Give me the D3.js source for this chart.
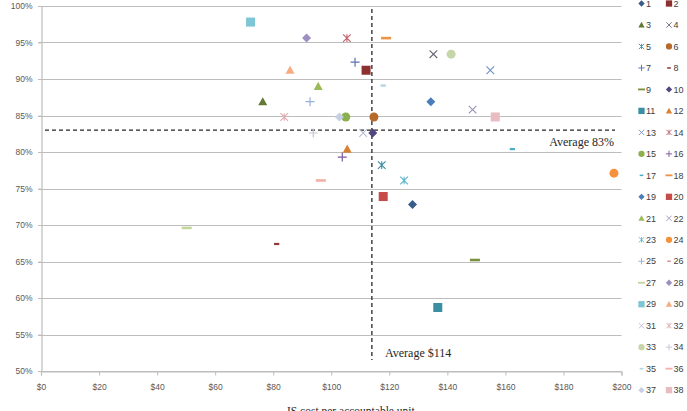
<!DOCTYPE html>
<html>
<head>
<meta charset="utf-8">
<script src="https://cdn.jsdelivr.net/npm/d3@7"></script>
<style>
  body { margin: 0; background: #fff; }
  svg { display: block; }
</style>
</head>
<body>
<div id="chart"></div>
<script>
// data (series 26 not visible on the plot)
var seriesNames = d3.range(1, 39).map(String);
var costValues = [128.0, 112.0, 76.4, 135.2, 117.4, 114.7, 108.2, 81.2, 149.5, 114.3,
                  136.7, 105.5, 154.8, 105.4, 105.0, 103.8, 162.4, 118.9, 134.3, 117.9,
                  95.5, 148.7, 125.1, 197.4, 92.7, null, 50.2, 91.5, 72.2, 85.8,
                  111.0, 83.8, 141.3, 93.8, 117.9, 96.4, 102.8, 156.5];
var pctValues = [72.8, 91.2, 86.9, 93.4, 78.2, 84.8, 92.3, 67.4, 65.2, 82.6,
                 58.7, 80.4, 91.2, 95.6, 84.8, 79.3, 80.4, 95.6, 86.9, 73.9,
                 89.0, 85.8, 76.1, 77.1, 86.9, null, 69.6, 95.6, 97.8, 91.2,
                 82.6, 84.8, 93.4, 82.6, 89.1, 76.1, 84.8, 84.8];
var xTicks = [0, 20, 40, 60, 80, 100, 120, 140, 160, 180, 200];
var yTicks = [50, 55, 60, 65, 70, 75, 80, 85, 90, 95, 100];
var avgCost = 114;
var avgPct = 83;

// excel-like marker cycle and colours
var markerCycle = ["diamond", "square", "triangle", "x", "star", "circle", "plus", "shortdash", "longdash"];
var colors = ["#385D8A", "#8C3130", "#637A35", "#6A6478", "#3A8BA0", "#B66A2C",
              "#5B73B5", "#8E3A3A", "#7A9040", "#54467E", "#3A8FA3", "#D98132",
              "#6F8FC8", "#C0606A", "#8DB04E", "#7A5AA0", "#4BACC6", "#EE9245",
              "#4A7EBB", "#C74B48", "#9BBB59", "#9A90B8", "#5AB5CC", "#F7923A",
              "#9AAEDC", "#D99694", "#C3D69B", "#9D90C0", "#7EC5D6", "#F7AC80",
              "#B8BCD6", "#E0AAAE", "#C7D6A8", "#CAC4D6", "#A8D5E0", "#F2B0A6",
              "#C6CFE4", "#E8BCC0"];

var width = 687, height = 411;

var svg = d3.select("#chart").append("svg")
    .attr("width", width)
    .attr("height", height);

var x = d3.scaleLinear().domain([0, 200]).range([41, 621.5]);
var y = d3.scaleLinear().domain([50, 100]).range([371, 6]);

// gridlines
svg.append("g")
    .selectAll("line")
    .data(yTicks)
    .join("line")
    .attr("x1", x(0) - 3)
    .attr("x2", x(200))
    .attr("y1", function(d){ return Math.round(y(d)) + 0.5; })
    .attr("y2", function(d){ return Math.round(y(d)) + 0.5; })
    .attr("stroke", "#BDBDBD")
    .attr("stroke-width", 1.2);

// y axis
var yAxis = svg.append("g")
    .attr("transform", "translate(" + (Math.round(x(0)) + 0.5) + ",0)")
    .call(d3.axisLeft(y).tickValues(yTicks).tickSize(3).tickPadding(6)
        .tickFormat(function(d){ return d + "%"; }));

// x axis
var xAxis = svg.append("g")
    .attr("transform", "translate(0," + (Math.round(y(50)) + 0.5) + ")")
    .call(d3.axisBottom(x).tickValues(xTicks).tickSize(4).tickPadding(8)
        .tickFormat(function(d){ return "$" + d; }));

[yAxis, xAxis].forEach(function(a){
    a.select(".domain").attr("stroke", "#BDBDBD").attr("stroke-width", 1.2);
    a.selectAll(".tick line").attr("stroke", "#BDBDBD");
    a.selectAll("text")
        .attr("fill", "#595959")
        .style("font-family", "'Liberation Sans', Arial, sans-serif")
        .style("font-size", "8.5px");
});

// average lines
svg.append("line")
    .attr("x1", 45).attr("x2", 615)
    .attr("y1", y(avgPct)).attr("y2", y(avgPct))
    .attr("stroke", "#262626").attr("stroke-width", 1.3)
    .attr("stroke-dasharray", "4,3");

svg.append("line")
    .attr("x1", x(avgCost)).attr("x2", x(avgCost))
    .attr("y1", 9).attr("y2", 360)
    .attr("stroke", "#262626").attr("stroke-width", 1.3)
    .attr("stroke-dasharray", "4,3");

svg.append("text")
    .attr("x", 614).attr("y", 146)
    .attr("text-anchor", "end")
    .style("font-family", "'Liberation Serif', 'Times New Roman', serif")
    .style("font-size", "12px")
    .attr("fill", "#262626")
    .text("Average " + avgPct + "%");

svg.append("text")
    .attr("x", 385).attr("y", 357)
    .style("font-family", "'Liberation Serif', 'Times New Roman', serif")
    .style("font-size", "12px")
    .attr("fill", "#262626")
    .text("Average $" + avgCost);

// x axis title (sits at the bottom edge like the source)
svg.append("text")
    .attr("x", 287).attr("y", 415)
    .style("font-family", "'Liberation Serif', 'Times New Roman', serif")
    .style("font-size", "11.5px")
    .attr("fill", "#262626")
    .text("IS cost per accountable unit");

// marker drawing
function drawMarker(g, type, color, s) {
    var h = 4.5 * s;
    if (type == "diamond") {
        g.append("path").attr("d", "M0," + (-h) + "L" + h + ",0L0," + h + "L" + (-h) + ",0Z")
            .attr("fill", color);
    } else if (type == "square") {
        g.append("rect").attr("x", -h).attr("y", -h).attr("width", 2*h).attr("height", 2*h)
            .attr("fill", color);
    } else if (type == "triangle") {
        g.append("path").attr("d", "M0," + (-h) + "L" + h + "," + (h*0.8) + "L" + (-h) + "," + (h*0.8) + "Z")
            .attr("fill", color);
    } else if (type == "circle") {
        g.append("circle").attr("r", h).attr("fill", color);
    } else if (type == "x" || type == "star") {
        var k = h * 0.85;
        g.append("path")
            .attr("d", "M" + (-k) + "," + (-k) + "L" + k + "," + k + "M" + (-k) + "," + k + "L" + k + "," + (-k)
                + (type == "star" ? "M0," + (-k) + "L0," + k : ""))
            .attr("stroke", color).attr("stroke-width", 1.1 * Math.max(s, 0.8)).attr("fill", "none");
    } else if (type == "plus") {
        g.append("path")
            .attr("d", "M" + (-h) + ",0L" + h + ",0M0," + (-h) + "L0," + h)
            .attr("stroke", color).attr("stroke-width", 1.2 * Math.max(s, 0.8)).attr("fill", "none");
    } else if (type == "shortdash") {
        g.append("rect").attr("x", -2.6*s).attr("y", -1.1*s).attr("width", 5.2*s).attr("height", 2.2*s)
            .attr("fill", color);
    } else if (type == "longdash") {
        g.append("rect").attr("x", -5*s).attr("y", -1.3*s).attr("width", 10*s).attr("height", 2.6*s)
            .attr("fill", color);
    }
}

var points = seriesNames.map(function(name, i){
    return { name: name, cost: costValues[i], pct: pctValues[i],
             type: markerCycle[i % markerCycle.length], color: colors[i] };
});

var plot = svg.append("g");
points.forEach(function(p){
    if (p.cost == null) return;
    var g = plot.append("g")
        .attr("transform", "translate(" + x(p.cost) + "," + y(p.pct) + ")");
    drawMarker(g, p.type, p.color, 1);
});

// legend, two columns
var legend = svg.append("g");
points.forEach(function(p, i){
    var col = i % 2, row = Math.floor(i / 2);
    var lx = col == 0 ? 641.5 : 669;
    var ly = 3.5 + row * 21.48;
    var g = legend.append("g").attr("transform", "translate(" + lx + "," + ly + ")");
    drawMarker(g, p.type, p.color, 0.7);
    legend.append("text")
        .attr("x", lx + 4.5).attr("y", ly + 3.2)
        .style("font-family", "'Liberation Sans', Arial, sans-serif")
        .style("font-size", "9px")
        .attr("fill", "#404040")
        .text(p.name);
});
</script>
</body>
</html>
